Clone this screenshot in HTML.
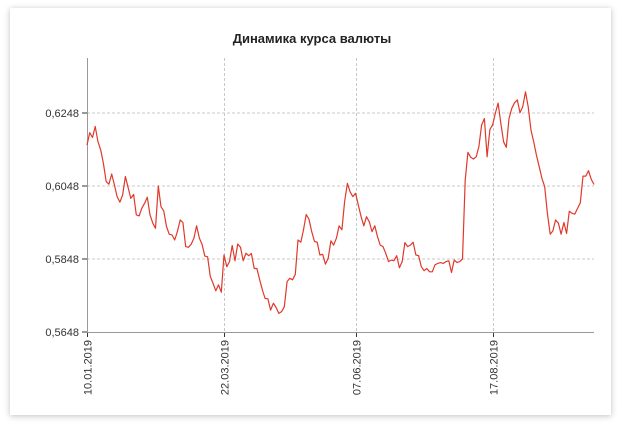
<!DOCTYPE html>
<html><head><meta charset="utf-8"><style>
html,body{margin:0;padding:0;background:#fff;}
#card{position:absolute;left:10px;top:8px;width:601px;height:407px;background:#fff;box-shadow:0 1px 6px rgba(0,0,0,0.25);}
svg{position:absolute;left:0;top:0;}
text{font-family:"Liberation Sans","DejaVu Sans",sans-serif;}
</style></head><body>
<div id="card"></div>
<svg id="chart" width="628" height="434">
<text x="312" y="43" text-anchor="middle" font-size="13" font-weight="bold" fill="#222">Динамика курса валюты</text>
</svg>
<script>
const yTicks = [0.5648, 0.5848, 0.6048, 0.6248];
const xTickLabels = ["10.01.2019", "22.03.2019", "07.06.2019", "17.08.2019"];
const xTickIndex = [0, 50, 98, 148];
const rates = [0.6160,0.6194,0.6181,0.6211,0.6169,0.6147,0.6110,0.6060,0.6053,0.6081,0.6051,0.6019,0.6004,0.6023,0.6074,0.6044,0.6014,0.6025,0.5969,0.5966,0.5987,0.6001,0.6017,0.5969,0.5946,0.5932,0.6048,0.5991,0.5980,0.5937,0.5916,0.5914,0.5900,0.5923,0.5955,0.5948,0.5882,0.5880,0.5888,0.5905,0.5939,0.5905,0.5888,0.5856,0.5854,0.5800,0.5781,0.5761,0.5777,0.5757,0.5859,0.5827,0.5841,0.5885,0.5843,0.5889,0.5880,0.5843,0.5864,0.5857,0.5863,0.5822,0.5822,0.5791,0.5763,0.5740,0.5739,0.5708,0.5727,0.5715,0.5699,0.5704,0.5717,0.5786,0.5795,0.5791,0.5806,0.5900,0.5894,0.5928,0.5970,0.5957,0.5923,0.5896,0.5894,0.5859,0.5861,0.5834,0.5850,0.5898,0.5886,0.5905,0.5939,0.5928,0.6005,0.6055,
0.6032,0.6019,0.6028,0.5996,0.5964,0.5939,0.5964,0.5950,0.5923,0.5939,0.5909,0.5886,0.5882,0.5864,0.5841,0.5845,0.5843,0.5857,0.5824,0.5841,0.5893,0.5882,0.5886,0.5894,0.5859,0.5857,0.5827,0.5816,0.5822,0.5813,0.5813,0.5832,0.5836,0.5838,0.5836,0.5841,0.5843,0.5811,0.5845,0.5838,0.5841,0.5848,0.6064,0.6140,0.6127,0.6122,0.6128,0.6156,0.6215,0.6233,0.6128,0.6203,0.6215,0.6247,0.6275,0.6220,0.6169,0.6154,0.6233,0.6261,0.6276,0.6284,0.6249,0.6265,0.6306,0.6265,0.6201,0.6169,0.6133,0.6101,0.6069,0.6046,0.5973,0.5916,0.5925,0.5955,0.5946,0.5916,0.5948,0.5918,0.5979,0.5973,0.5971,0.5987,0.6002,0.6075,0.6075,0.6090,0.6066,0.6052];

const NS = "http://www.w3.org/2000/svg";
const svg = document.getElementById('chart');
const L = 87, R = 594, T = 58, B = 332;
const yMin = 0.5648, yMax = 0.6248, yTop = 113;
function yScale(v){ return B - (v - yMin) / (yMax - yMin) * (B - yTop); }
function xScale(i){ return L + i * (R - L) / (rates.length - 1); }
function mk(tag, attrs){ const e = document.createElementNS(NS, tag); for (const k in attrs) e.setAttribute(k, attrs[k]); svg.appendChild(e); return e; }

yTicks.forEach((t, i) => {
  const y = yScale(t);
  if (i > 0) {
    const g = mk('line', {x1: L, x2: R, y1: y, y2: y, stroke: '#c8c8c8', 'stroke-dasharray': '3,2'});
    
    
  }
  const tk = mk('line', {x1: L - 5, x2: L, y1: y, y2: y, stroke: '#333'});
  
  
  const lb = mk('text', {x: L - 8, y: y + 4, 'text-anchor': 'end', 'font-size': 11, fill: '#333'});
  lb.textContent = t.toFixed(4).replace('.', ',');
  
  
});
xTickLabels.forEach((s, i) => {
  const x = Math.round(xScale(xTickIndex[i])) + 0.5;
  if (i > 0) {
    const g = mk('line', {x1: x, x2: x, y1: T, y2: B, stroke: '#c8c8c8', 'stroke-dasharray': '3,2'});
    
    
  }
  const tk = mk('line', {x1: x, x2: x, y1: B, y2: B + 5, stroke: '#333'});
  
  
  const lb = mk('text', {x: 0, y: 0, 'text-anchor': 'end', 'font-size': 11, fill: '#333', transform: 'translate(' + (x + 4) + ',' + (B + 8) + ') rotate(-90)'});
  lb.textContent = s;
  
  
});
const ya = mk('line', {x1: L + 0.5, x2: L + 0.5, y1: T, y2: B, stroke: '#999'});


const xa = mk('line', {x1: L, x2: R, y1: B + 0.5, y2: B + 0.5, stroke: '#999'});


const pts = rates.map((v, i) => xScale(i).toFixed(1) + ',' + yScale(v).toFixed(1)).join(' ');
const line = mk('polyline', {points: pts, fill: 'none', stroke: '#e0392b', 'stroke-width': 1.2, 'stroke-linejoin': 'round'});


</script>
</body></html>
